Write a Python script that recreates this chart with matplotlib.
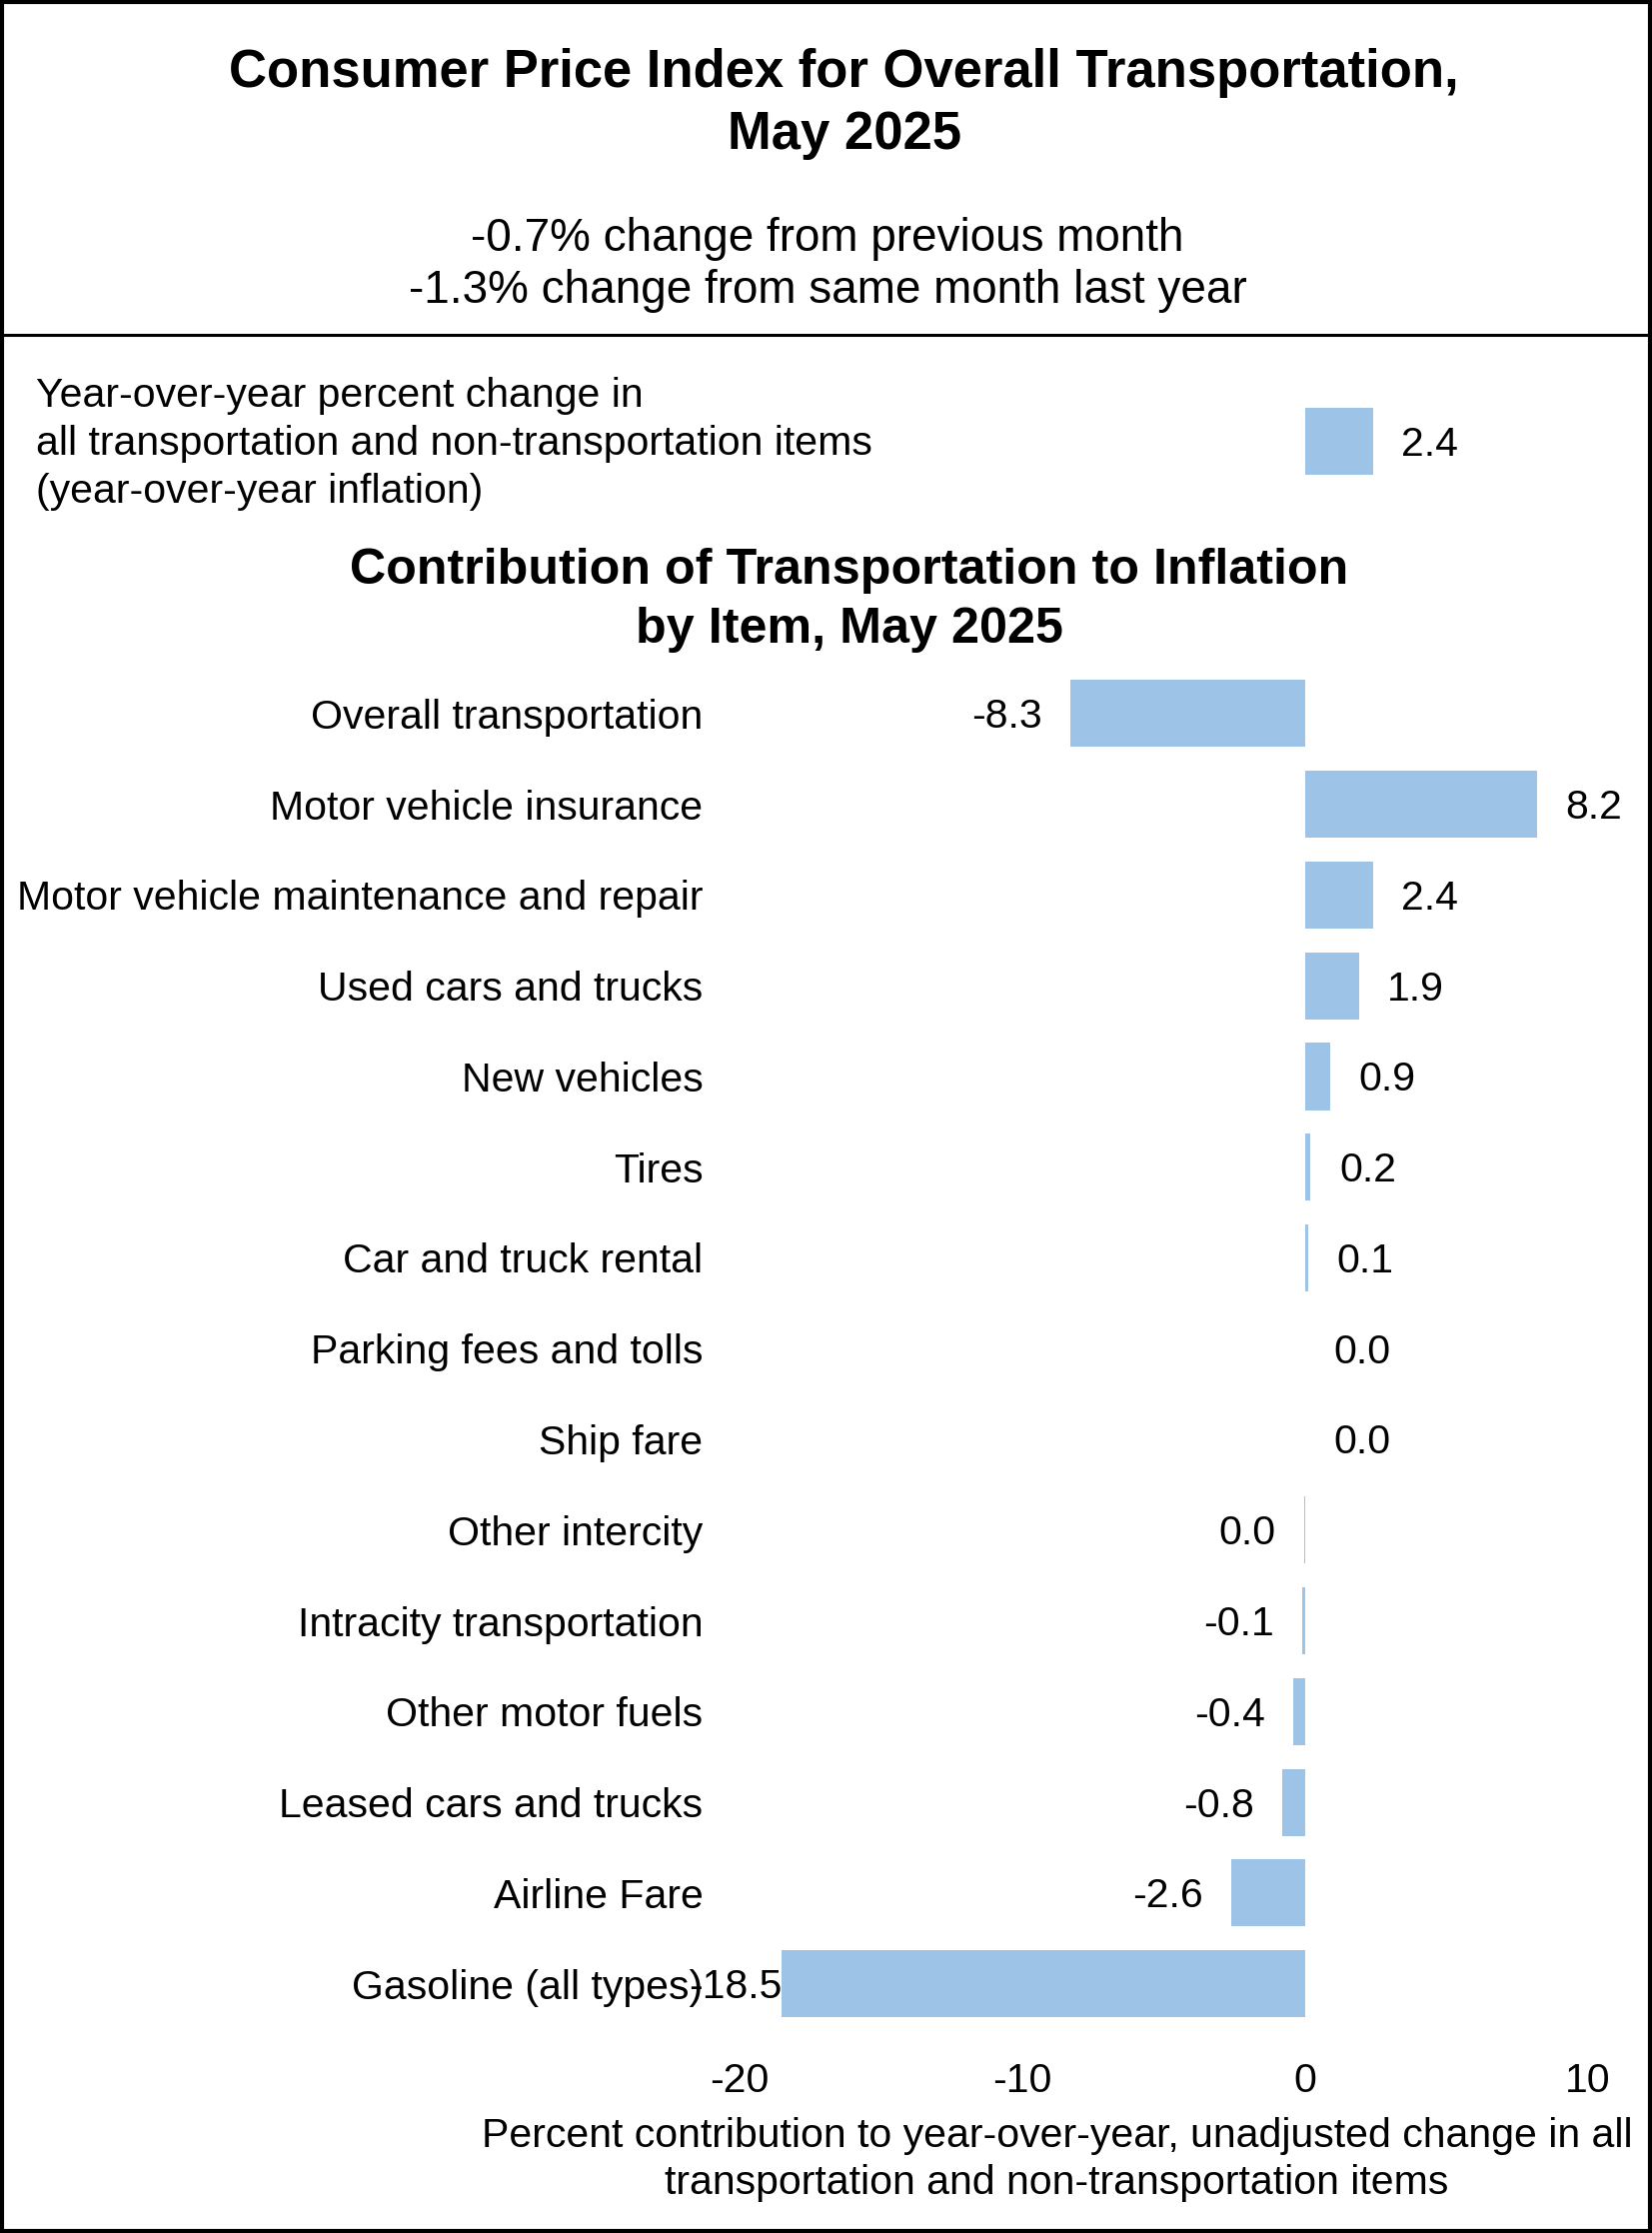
import matplotlib
matplotlib.use("Agg")
import matplotlib.pyplot as plt
from matplotlib.lines import Line2D
from matplotlib.patches import Rectangle

plt.rcParams['font.family'] = ['Liberation Sans', 'DejaVu Sans']

# ================= data =================
TITLE = ["Consumer Price Index for Overall Transportation,", "May 2025"]
SUBTITLE = ["-0.7% change from previous month", "-1.3% change from same month last year"]
HEAD_LABEL = ["Year-over-year percent change in",
              "all transportation and non-transportation items",
              "(year-over-year inflation)"]
HEAD_VALUE = 2.4
SECTION_TITLE = ["Contribution of Transportation to Inflation", "by Item, May 2025"]

items = ["Overall transportation", "Motor vehicle insurance",
         "Motor vehicle maintenance and repair", "Used cars and trucks",
         "New vehicles", "Tires", "Car and truck rental",
         "Parking fees and tolls", "Ship fare", "Other intercity",
         "Intracity transportation", "Other motor fuels",
         "Leased cars and trucks", "Airline Fare", "Gasoline (all types)"]
contrib = [-8.3, 8.2, 2.4, 1.9, 0.9, 0.2, 0.1, 0.0, 0.0, -0.02,
           -0.1, -0.4, -0.8, -2.6, -18.5]

x_ticks = [-20, -10, 0, 10]
XLABEL = ["Percent contribution to year-over-year, unadjusted change in all",
          "transportation and non-transportation items"]

BAR_COLOR = '#9DC3E6'
FS = 29.5

# ================= figure =================
fig = plt.figure(figsize=(16.53, 22.34), dpi=100)

# outer frame and divider line
fig.patches.append(Rectangle((0.0015, 0.001), 0.997, 0.998, transform=fig.transFigure,
                             fill=False, edgecolor='black', linewidth=3))
fig.lines.append(Line2D([0, 1], [0.8501, 0.8501], transform=fig.transFigure,
                        color='black', linewidth=2.2))

def frac(ypix):
    # reference rows measured on a 1568 px tall view
    return 1 - (ypix + 3) / 1568.0

fig.text(0.511, frac(48), TITLE[0], ha='center', va='center', fontsize=37.9, fontweight='bold')
fig.text(0.511, frac(92), TITLE[1], ha='center', va='center', fontsize=37.9, fontweight='bold')
fig.text(0.501, frac(165), SUBTITLE[0], ha='center', va='center', fontsize=33)
fig.text(0.501, frac(201), SUBTITLE[1], ha='center', va='center', fontsize=33)

for i, line in enumerate(HEAD_LABEL):
    fig.text(0.0216, frac(275 + 33.5 * i), line, ha='left', va='center', fontsize=FS)

fig.text(0.514, frac(398), SECTION_TITLE[0], ha='center', va='center', fontsize=36.2, fontweight='bold')
fig.text(0.514, frac(439), SECTION_TITLE[1], ha='center', va='center', fontsize=36.2, fontweight='bold')

# ================= bars =================
ax = fig.add_axes([0.4474, 0.08724, 0.5138, 0.7395])
ypos = list(range(len(items)))
ax.barh(ypos, contrib, height=0.74, color=BAR_COLOR)
ax.barh([-3], [HEAD_VALUE], height=0.74, color=BAR_COLOR)

ax.set_xlim(-20, 10)
ax.set_ylim(14.6, -3.6)
ax.set_xticks(x_ticks)
ax.set_xticklabels([str(t) for t in x_ticks], fontsize=FS)
ax.set_yticks(ypos)
ax.set_yticklabels(items, fontsize=FS)
ax.tick_params(axis='both', length=0)
ax.tick_params(axis='y', pad=26)
ax.tick_params(axis='x', pad=17)
for s in ax.spines.values():
    s.set_visible(False)


def label_bar(y, v):
    txt = f"{v:.1f}"
    if txt == "-0.0":
        txt = "0.0"
    gap = 20.5
    if v < -15:
        # label pushed against the bar end, as in the original
        gap = 0
    if v >= 0:
        ax.annotate(txt, (v, y), xytext=(gap, -2.5), textcoords='offset points',
                    ha='left', va='center', fontsize=FS)
    else:
        ax.annotate(txt, (v, y), xytext=(-gap, -2.5), textcoords='offset points',
                    ha='right', va='center', fontsize=FS)


for y, v in zip(ypos, contrib):
    label_bar(y, v)
label_bar(-3, HEAD_VALUE)

fig.text(0.6397, frac(1497), XLABEL[0], ha='center', va='center', fontsize=FS)
fig.text(0.6397, frac(1530), XLABEL[1], ha='center', va='center', fontsize=FS)

fig.savefig('out.png', dpi=100)
